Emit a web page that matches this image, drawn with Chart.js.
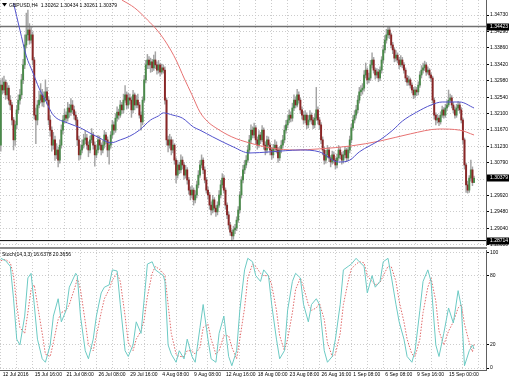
<!DOCTYPE html>
<html><head><meta charset="utf-8">
<script src="https://cdn.jsdelivr.net/npm/chart.js@4.4.0/dist/chart.umd.min.js"></script>
<style>
html,body{margin:0;padding:0;background:#fff;}
#wrap{position:relative;width:510px;height:382px;overflow:hidden;background:#fff}
canvas{position:absolute;left:0}
#sep{position:absolute;left:0;top:247px;width:487px;height:2px;background:#8c8c8c}
</style></head><body>
<div id="wrap">
<canvas id="main" width="510" height="246" style="top:0"></canvas>
<div id="sep"></div>
<canvas id="osc" width="510" height="132" style="top:250px"></canvas>
</div>
<script>
const symbolText = 'GBPUSD,H4';
const lastQuote = ['1.30262','1.30434','1.30261','1.30379'];
const stochTitle = 'Stoch(14,3,3) 16.6378 20.3656';
const timeLabels = ['12 Jul 2016','15 Jul 16:00','21 Jul 08:00','26 Jul 08:00','29 Jul 16:00','4 Aug 08:00','9 Aug 08:00','12 Aug 16:00','18 Aug 00:00','23 Aug 08:00','26 Aug 16:00','1 Sep 08:00','6 Sep 08:00','9 Sep 16:00','15 Sep 00:00'];
const timeTickBars = [0,20,40,60,80,100,120,140,160,180,200,220,240,260,280];
const gridBars = [0,10,20,30,40,50,60,70,80,90,100,110,120,130,140,150,160,170,180,190,200,210,220,230,240,250,260,270,280,290,300];
const priceTicks = [1.34730,1.34290,1.33860,1.33420,1.32980,1.32540,1.32100,1.31670,1.31230,1.30790,1.30350,1.29920,1.29480,1.29040,1.28600];
const markedPrices = [1.34423,1.30379,1.28714];
const levelLines = [1.34423,1.28714];
const stochTicks = [0,20,80,100];

const opens = [1.3126,
1.3286,1.3273,1.3294,1.3260,1.3278,1.3246,1.3233,1.3193,1.3140,1.3180,
1.3220,1.3246,1.3260,1.3300,1.3340,1.3393,1.3420,1.3433,1.3406,1.3420,
1.3353,1.3206,1.3193,1.3233,1.3246,1.3260,1.3241,1.3252,1.3268,1.3246,
1.3193,1.3166,1.3126,1.3140,1.3100,1.3113,1.3086,1.3126,1.3166,1.3193,
1.3206,1.3198,1.3225,1.3214,1.3233,1.3220,1.3206,1.3193,1.3140,1.3100,
1.3113,1.3126,1.3140,1.3145,1.3126,1.3113,1.3140,1.3153,1.3126,1.3100,
1.3113,1.3140,1.3126,1.3113,1.3126,1.3153,1.3140,1.3113,1.3126,1.3153,
1.3180,1.3166,1.3198,1.3214,1.3206,1.3233,1.3220,1.3246,1.3260,1.3233,
1.3252,1.3246,1.3220,1.3260,1.3233,1.3246,1.3233,1.3206,1.3188,1.3246,
1.3300,1.3340,1.3353,1.3340,1.3348,1.3332,1.3353,1.3340,1.3326,1.3340,
1.3321,1.3332,1.3326,1.3246,1.3140,1.3126,1.3140,1.3113,1.3126,1.3086,
1.3046,1.3073,1.3060,1.3086,1.3073,1.3046,1.3060,1.3033,1.3006,1.2993,
1.3006,1.2980,1.2993,1.3020,1.3046,1.3073,1.3086,1.3060,1.3033,1.3006,
1.2993,1.2966,1.2953,1.2980,1.2958,1.2948,1.2966,1.2993,1.3020,1.3038,
1.3006,1.2966,1.2940,1.2913,1.2894,1.2884,1.2900,1.2905,1.2926,1.2953,
1.2993,1.3033,1.3060,1.3073,1.3086,1.3113,1.3140,1.3166,1.3153,1.3172,
1.3140,1.3126,1.3153,1.3140,1.3166,1.3126,1.3113,1.3140,1.3126,1.3113,
1.3100,1.3118,1.3126,1.3113,1.3092,1.3113,1.3126,1.3140,1.3166,1.3180,
1.3193,1.3206,1.3198,1.3225,1.3246,1.3233,1.3260,1.3246,1.3220,1.3206,
1.3193,1.3206,1.3180,1.3193,1.3206,1.3193,1.3180,1.3198,1.3220,1.3193,
1.3180,1.3140,1.3113,1.3086,1.3100,1.3113,1.3092,1.3081,1.3100,1.3086,
1.3073,1.3092,1.3113,1.3100,1.3086,1.3100,1.3113,1.3092,1.3113,1.3140,
1.3172,1.3193,1.3206,1.3220,1.3246,1.3268,1.3273,1.3278,1.3313,1.3326,
1.3300,1.3305,1.3340,1.3353,1.3326,1.3313,1.3321,1.3305,1.3326,1.3353,
1.3380,1.3406,1.3420,1.3433,1.3420,1.3393,1.3380,1.3358,1.3366,1.3353,
1.3340,1.3353,1.3340,1.3326,1.3305,1.3294,1.3300,1.3286,1.3273,1.3260,
1.3273,1.3268,1.3286,1.3313,1.3326,1.3332,1.3340,1.3321,1.3326,1.3313,
1.3305,1.3246,1.3206,1.3193,1.3198,1.3188,1.3206,1.3220,1.3206,1.3225,
1.3233,1.3246,1.3252,1.3233,1.3220,1.3206,1.3225,1.3233,1.3220,1.3193,
1.3140,1.3073,1.3020,1.3006,1.3038,1.3060,1.30262];
const closes = [
1.3286,1.3273,1.3294,1.3260,1.3278,1.3246,1.3233,1.3193,1.3140,1.3180,
1.3220,1.3246,1.3260,1.3300,1.3340,1.3393,1.3420,1.3433,1.3406,1.3420,
1.3353,1.3206,1.3193,1.3233,1.3246,1.3260,1.3241,1.3252,1.3268,1.3246,
1.3193,1.3166,1.3126,1.3140,1.3100,1.3113,1.3086,1.3126,1.3166,1.3193,
1.3206,1.3198,1.3225,1.3214,1.3233,1.3220,1.3206,1.3193,1.3140,1.3100,
1.3113,1.3126,1.3140,1.3145,1.3126,1.3113,1.3140,1.3153,1.3126,1.3100,
1.3113,1.3140,1.3126,1.3113,1.3126,1.3153,1.3140,1.3113,1.3126,1.3153,
1.3180,1.3166,1.3198,1.3214,1.3206,1.3233,1.3220,1.3246,1.3260,1.3233,
1.3252,1.3246,1.3220,1.3260,1.3233,1.3246,1.3233,1.3206,1.3188,1.3246,
1.3300,1.3340,1.3353,1.3340,1.3348,1.3332,1.3353,1.3340,1.3326,1.3340,
1.3321,1.3332,1.3326,1.3246,1.3140,1.3126,1.3140,1.3113,1.3126,1.3086,
1.3046,1.3073,1.3060,1.3086,1.3073,1.3046,1.3060,1.3033,1.3006,1.2993,
1.3006,1.2980,1.2993,1.3020,1.3046,1.3073,1.3086,1.3060,1.3033,1.3006,
1.2993,1.2966,1.2953,1.2980,1.2958,1.2948,1.2966,1.2993,1.3020,1.3038,
1.3006,1.2966,1.2940,1.2913,1.2894,1.2884,1.2900,1.2905,1.2926,1.2953,
1.2993,1.3033,1.3060,1.3073,1.3086,1.3113,1.3140,1.3166,1.3153,1.3172,
1.3140,1.3126,1.3153,1.3140,1.3166,1.3126,1.3113,1.3140,1.3126,1.3113,
1.3100,1.3118,1.3126,1.3113,1.3092,1.3113,1.3126,1.3140,1.3166,1.3180,
1.3193,1.3206,1.3198,1.3225,1.3246,1.3233,1.3260,1.3246,1.3220,1.3206,
1.3193,1.3206,1.3180,1.3193,1.3206,1.3193,1.3180,1.3198,1.3220,1.3193,
1.3180,1.3140,1.3113,1.3086,1.3100,1.3113,1.3092,1.3081,1.3100,1.3086,
1.3073,1.3092,1.3113,1.3100,1.3086,1.3100,1.3113,1.3092,1.3113,1.3140,
1.3172,1.3193,1.3206,1.3220,1.3246,1.3268,1.3273,1.3278,1.3313,1.3326,
1.3300,1.3305,1.3340,1.3353,1.3326,1.3313,1.3321,1.3305,1.3326,1.3353,
1.3380,1.3406,1.3420,1.3433,1.3420,1.3393,1.3380,1.3358,1.3366,1.3353,
1.3340,1.3353,1.3340,1.3326,1.3305,1.3294,1.3300,1.3286,1.3273,1.3260,
1.3273,1.3268,1.3286,1.3313,1.3326,1.3332,1.3340,1.3321,1.3326,1.3313,
1.3305,1.3246,1.3206,1.3193,1.3198,1.3188,1.3206,1.3220,1.3206,1.3225,
1.3233,1.3246,1.3252,1.3233,1.3220,1.3206,1.3225,1.3233,1.3220,1.3193,
1.3140,1.3073,1.3020,1.3006,1.3038,1.3060,1.30262,1.30379];
const highs = [
1.3300,1.3305,1.3310,1.3300,1.3292,1.3285,1.3258,1.3240,1.3200,1.3190,
1.3232,1.3260,1.3275,1.3315,1.3355,1.3420,1.3478,1.3486,1.3450,1.3440,
1.3428,1.3360,1.3225,1.3245,1.3270,1.3290,1.3275,1.3268,1.3300,1.3280,
1.3255,1.3205,1.3175,1.3160,1.3150,1.3130,1.3120,1.3140,1.3180,1.3205,
1.3222,1.3215,1.3240,1.3235,1.3250,1.3245,1.3230,1.3215,1.3200,1.3150,
1.3125,1.3140,1.3155,1.3165,1.3155,1.3135,1.3150,1.3170,1.3160,1.3135,
1.3125,1.3152,1.3150,1.3132,1.3138,1.3165,1.3160,1.3148,1.3135,1.3162,
1.3192,1.3188,1.3210,1.3228,1.3222,1.3245,1.3240,1.3262,1.3285,1.3268,
1.3265,1.3262,1.3255,1.3272,1.3265,1.3258,1.3262,1.3240,1.3215,1.3255,
1.3312,1.3352,1.3368,1.3362,1.3358,1.3355,1.3366,1.3375,1.3348,1.3352,
1.3345,1.3342,1.3340,1.3335,1.3252,1.3150,1.3155,1.3148,1.3140,1.3130,
1.3092,1.3085,1.3080,1.3100,1.3095,1.3080,1.3072,1.3066,1.3040,1.3015,
1.3018,1.3012,1.3005,1.3030,1.3058,1.3085,1.3100,1.3092,1.3068,1.3040,
1.3015,1.3000,1.2975,1.2992,1.2986,1.2965,1.2975,1.3005,1.3032,1.3050,
1.3045,1.3012,1.2972,1.2948,1.2920,1.2900,1.2910,1.2915,1.2935,1.2962,
1.3002,1.3042,1.3072,1.3085,1.3098,1.3125,1.3152,1.3180,1.3175,1.3185,
1.3178,1.3148,1.3165,1.3160,1.3178,1.3172,1.3135,1.3150,1.3148,1.3132,
1.3120,1.3128,1.3140,1.3135,1.3120,1.3122,1.3138,1.3152,1.3178,1.3192,
1.3205,1.3220,1.3215,1.3238,1.3260,1.3255,1.3275,1.3268,1.3252,1.3228,
1.3215,1.3218,1.3212,1.3205,1.3218,1.3212,1.3200,1.3210,1.3280,1.3228,
1.3200,1.3186,1.3148,1.3120,1.3112,1.3125,1.3120,1.3098,1.3110,1.3108,
1.3092,1.3102,1.3125,1.3120,1.3106,1.3110,1.3122,1.3118,1.3122,1.3150,
1.3182,1.3205,1.3218,1.3232,1.3258,1.3280,1.3285,1.3290,1.3325,1.3345,
1.3332,1.3318,1.3352,1.3372,1.3360,1.3332,1.3330,1.3328,1.3335,1.3362,
1.3392,1.3418,1.3435,1.3442,1.3440,1.3425,1.3400,1.3386,1.3378,1.3372,
1.3360,1.3365,1.3360,1.3346,1.3332,1.3312,1.3310,1.3305,1.3292,1.3280,
1.3282,1.3280,1.3295,1.3322,1.3338,1.3345,1.3350,1.3346,1.3335,1.3330,
1.3318,1.3310,1.3252,1.3212,1.3208,1.3205,1.3215,1.3230,1.3226,1.3235,
1.3245,1.3273,1.3262,1.3258,1.3240,1.3228,1.3235,1.3242,1.3240,1.3226,
1.3198,1.3145,1.3078,1.3030,1.3045,1.3086,1.3068,1.30434];
const lows = [
1.3110,1.3262,1.3265,1.3248,1.3250,1.3235,1.3220,1.3180,1.3113,1.3125,
1.3170,1.3210,1.3235,1.3250,1.3290,1.3330,1.3385,1.3405,1.3395,1.3398,
1.3340,1.3195,1.3130,1.3180,1.3225,1.3238,1.3230,1.3228,1.3245,1.3235,
1.3180,1.3150,1.3110,1.3115,1.3085,1.3090,1.3068,1.3078,1.3118,1.3155,
1.3185,1.3185,1.3190,1.3200,1.3205,1.3210,1.3195,1.3180,1.3125,1.3086,
1.3090,1.3105,1.3118,1.3130,1.3115,1.3095,1.3105,1.3132,1.3115,1.3070,
1.3092,1.3105,1.3115,1.3100,1.3105,1.3118,1.3130,1.3095,1.3075,1.3118,
1.3145,1.3155,1.3160,1.3190,1.3195,1.3200,1.3210,1.3212,1.3240,1.3222,
1.3225,1.3235,1.3200,1.3212,1.3220,1.3225,1.3225,1.3198,1.3166,1.3180,
1.3240,1.3292,1.3330,1.3330,1.3320,1.3322,1.3325,1.3330,1.3315,1.3318,
1.3310,1.3315,1.3318,1.3235,1.3126,1.3108,1.3118,1.3100,1.3105,1.3075,
1.3025,1.3038,1.3050,1.3052,1.3062,1.3035,1.3038,1.3022,1.2995,1.2980,
1.2985,1.2966,1.2972,1.2985,1.3012,1.3040,1.3065,1.3050,1.3025,1.2998,
1.2982,1.2955,1.2940,1.2945,1.2948,1.2936,1.2940,1.2960,1.2985,1.3012,
1.2998,1.2955,1.2930,1.2902,1.2885,1.2871,1.2875,1.2890,1.2898,1.2920,
1.2945,1.2985,1.3025,1.3050,1.3065,1.3080,1.3105,1.3132,1.3145,1.3145,
1.3130,1.3115,1.3120,1.3130,1.3135,1.3115,1.3100,1.3105,1.3118,1.3100,
1.3088,1.3092,1.3110,1.3105,1.3080,1.3085,1.3105,1.3118,1.3132,1.3158,
1.3172,1.3185,1.3188,1.3190,1.3218,1.3225,1.3228,1.3238,1.3210,1.3195,
1.3182,1.3185,1.3170,1.3172,1.3188,1.3182,1.3170,1.3172,1.3192,1.3182,
1.3168,1.3130,1.3100,1.3075,1.3078,1.3092,1.3082,1.3068,1.3075,1.3078,
1.3062,1.3065,1.3085,1.3090,1.3075,1.3078,1.3092,1.3082,1.3085,1.3105,
1.3132,1.3165,1.3185,1.3198,1.3212,1.3238,1.3258,1.3262,1.3270,1.3305,
1.3290,1.3292,1.3298,1.3332,1.3318,1.3302,1.3305,1.3295,1.3298,1.3318,
1.3345,1.3372,1.3398,1.3412,1.3410,1.3385,1.3370,1.3348,1.3350,1.3345,
1.3330,1.3335,1.3332,1.3318,1.3295,1.3285,1.3286,1.3278,1.3265,1.3250,
1.3252,1.3258,1.3260,1.3280,1.3305,1.3318,1.3325,1.3312,1.3315,1.3305,
1.3295,1.3238,1.3195,1.3180,1.3185,1.3178,1.3182,1.3200,1.3198,1.3200,
1.3218,1.3228,1.3240,1.3225,1.3212,1.3198,1.3200,1.3218,1.3212,1.3185,
1.3130,1.3062,1.3000,1.2998,1.3000,1.3030,1.3018,1.30261];

const maBlueBars = [8,12,16,20,24,27,33,42,50,56,62,69,75,81,87,94,99,102,108,114,121,125,133,146,156,169,188,200,212,219,225,238,246,252,261,270,277,288,297];
const maBlueValues = [1.3505,1.3433,1.3364,1.3321,1.3278,1.3254,1.3206,1.3185,1.3172,1.3158,1.3145,1.3132,1.3140,1.3150,1.3166,1.3193,1.3204,1.3212,1.3206,1.3198,1.3174,1.3166,1.3148,1.3121,1.3105,1.3108,1.3113,1.3108,1.3081,1.3086,1.3108,1.3140,1.3166,1.3190,1.3214,1.3233,1.3241,1.3241,1.3225];
const maRedBars = [76,84,92,98,104,110,115,120,125,130,135,145,156,170,185,200,220,238,257,275,288,297];
const maRedValues = [1.3513,1.3492,1.3460,1.3433,1.3398,1.3353,1.3305,1.3260,1.3214,1.3188,1.3172,1.3148,1.3132,1.3118,1.3113,1.3116,1.3124,1.3137,1.3156,1.3169,1.3166,1.3153];

const stochBars = [0,3,6,8,10,12,15,17,19,21,23,26,28,31,33,36,38,41,43,47,48,50,53,55,58,60,63,65,68,70,73,75,78,80,83,85,88,90,92,95,97,100,102,103,105,107,110,112,115,117,120,122,125,127,130,132,135,137,140,143,145,148,150,153,155,158,160,163,165,168,170,173,175,178,180,183,185,188,190,193,195,198,200,203,205,208,210,213,215,218,220,223,225,228,230,233,235,238,240,243,245,248,250,253,255,258,260,263,265,268,270,273,275,278,281,284,287,289,291,294,296,297];
const stochMain = [95,93,88,60,25,20,45,78,82,55, 25,8,5,20,45,60,40,50,70,82, 80,45,15,8,25,45,65,70,72,85, 84,55,15,10,20,40,30,60,90,92, 85,82,80,75,20,12,5,15,8,25, 10,5,35,55,25,8,5,30,45,10, 2,15,50,85,95,92,80,75,85,80, 55,25,8,15,50,75,82,78,55,40, 55,60,55,15,5,10,25,55,85,88, 90,95,92,88,65,80,70,75,92,95, 80,55,40,25,10,5,15,50,75,85, 75,20,10,30,52,39,67,53,2,15, 20,16.64];
const stochSignal = [93,94,91,80,55,35,30,48,68,72, 55,30,12,10,22,42,48,50,55,72, 78,68,40,20,15,28,48,60,68,76, 82,75,45,22,15,25,32,42,62,82, 88,85,82,80,55,30,12,10,10,15, 15,12,18,35,38,25,12,15,28,28, 18,8,25,52,78,90,88,82,80,80, 72,50,28,15,25,48,68,78,70,55, 50,52,56,42,22,10,12,30,55,75, 86,90,92,91,80,75,72,74,80,88, 88,75,58,40,25,12,10,25,48,70, 78,58,32,20,32,40,52,55,38,22, 14,20.37];

const COL = {bull:'#4a8a4a', bear:'#8a2626', wick:'#a4a4a4', grid:'#cccccc', blue:'#5252cc', red:'#e77272', stMain:'#6ccac4', stSig:'#e06a6a', frame:'#606060'};
const FONT = {family:'"Liberation Sans", Arial, sans-serif', size:5};
const X_MIN = -0.5, X_MAX = 304.5;

const isUp = i => closes[i] >= opens[i];
const bodyData = closes.map((c, i) => ({x: i, y: [opens[i], c]}));
const wickData = closes.map((c, i) => ({x: i, y: [lows[i], highs[i]]}));
const pts = (xs, ys) => xs.map((x, k) => ({x, y: ys[k]}));

function fixY(width) {
  return function(scale) { scale.width = width; scale.paddingTop = 0; scale.paddingBottom = 0; };
}
function fixX(height) {
  return function(scale) { scale.height = height; scale.paddingLeft = 0; scale.paddingRight = 0; };
}

const titlePlugin = {
  id: 'titlePlugin',
  afterDraw(chart) {
    const ctx = chart.ctx;
    ctx.save();
    ctx.fillStyle = '#000';
    ctx.beginPath(); ctx.moveTo(2, 3); ctx.lineTo(7, 3); ctx.lineTo(4.5, 6.5); ctx.closePath(); ctx.fill();
    ctx.font = FONT.size + 'px ' + FONT.family;
    ctx.textBaseline = 'middle';
    ctx.fillText(symbolText + '  ' + lastQuote.join(' '), 9, 5.5);
    const ys = chart.scales.y; const right = chart.chartArea.right;
    markedPrices.forEach(p => {
      const y = ys.getPixelForValue(p);
      ctx.fillStyle = '#000';
      ctx.fillRect(right + 1, Math.round(y) - 3.5, 22, 7);
      ctx.fillStyle = '#fff';
      ctx.fillText(p.toFixed(5), right + 4, Math.round(y));
    });
    ctx.restore();
  }
};

new Chart(document.getElementById('main'), {
  type: 'bar',
  data: {
    datasets: [
      {type:'line', data: pts(maBlueBars, maBlueValues), borderColor: COL.blue, borderWidth: 1, pointRadius: 0, cubicInterpolationMode: 'monotone', order: 0},
      {type:'line', data: pts(maRedBars, maRedValues), borderColor: COL.red, borderWidth: 1, pointRadius: 0, cubicInterpolationMode: 'monotone', order: 0},
      {type:'line', data: [{x: X_MIN, y: levelLines[0]}, {x: X_MAX, y: levelLines[0]}], borderColor: '#707070', borderWidth: 1.4, pointRadius: 0, order: 1},
      {type:'line', data: [{x: X_MIN, y: levelLines[1]}, {x: X_MAX, y: levelLines[1]}], borderColor: '#000', borderWidth: 1, pointRadius: 0, order: 1},
      {type:'bar', data: bodyData, stack: 'c', barThickness: 1.3, backgroundColor: ctx => isUp(ctx.dataIndex) ? COL.bull : COL.bear, order: 2},
      {type:'bar', data: wickData, stack: 'c', barThickness: 0.8, backgroundColor: COL.wick, order: 3}
    ]
  },
  options: {
    responsive: false, animation: false, devicePixelRatio: 1,
    layout: {padding: 0},
    plugins: {legend: {display: false}, tooltip: {enabled: false}},
    scales: {
      x: {type: 'linear', min: X_MIN, max: X_MAX, offset: false,
          afterBuildTicks: s => { s.ticks = gridBars.map(v => ({value: v})); },
          afterFit: fixX(0),
          ticks: {display: false},
          grid: {offset: false, color: COL.grid, drawTicks: false},
          border: {display: false, dash: [1, 2]}},
      y: {type: 'linear', position: 'right', min: 1.2857, max: 1.3513, stacked: false, beginAtZero: false,
          afterBuildTicks: s => { s.ticks = priceTicks.map(v => ({value: v})); },
          afterFit: fixY(24),
          ticks: {color: '#000', font: FONT, padding: 1, callback: v => Number(v).toFixed(5)},
          grid: {color: COL.grid, drawTicks: true, tickLength: 3, tickColor: '#000', tickBorderDash: []},
          border: {display: true, color: COL.frame, width: 1, dash: [1, 2]}}
    }
  },
  plugins: [titlePlugin]
});

const stochPlugin = {
  id: 'stochPlugin',
  afterDraw(chart) {
    const ctx = chart.ctx;
    ctx.save();
    ctx.fillStyle = '#000';
    ctx.font = FONT.size + 'px ' + FONT.family;
    ctx.textBaseline = 'middle';
    ctx.fillText(stochTitle, 2, 4.5);
    ctx.restore();
  }
};

new Chart(document.getElementById('osc'), {
  type: 'line',
  data: {
    datasets: [
      {data: pts(stochBars, stochMain), borderColor: COL.stMain, borderWidth: 1, pointRadius: 0, tension: 0},
      {data: pts(stochBars, stochSignal), borderColor: COL.stSig, borderWidth: 1, borderDash: [1.5, 1.5], pointRadius: 0, tension: 0}
    ]
  },
  options: {
    responsive: false, animation: false, devicePixelRatio: 1,
    layout: {padding: 0},
    plugins: {legend: {display: false}, tooltip: {enabled: false}},
    scales: {
      x: {type: 'linear', min: X_MIN, max: X_MAX, offset: false,
          afterBuildTicks: s => { s.ticks = gridBars.map(v => ({value: v})); },
          afterFit: fixX(12),
          ticks: {autoSkip: false, maxRotation: 0, minRotation: 0, align: 'start', labelOffset: 2, padding: 2, color: '#000', font: FONT,
                  callback: v => { const k = timeTickBars.indexOf(v); return k >= 0 ? timeLabels[k] : ''; }},
          grid: {offset: false, color: COL.grid, drawTicks: false},
          border: {display: true, color: COL.frame, width: 1, dash: [1, 2]}},
      y: {type: 'linear', position: 'right', min: -1.7, max: 102.2,
          afterBuildTicks: s => { s.ticks = stochTicks.map(v => ({value: v})); },
          afterFit: fixY(24),
          ticks: {color: '#000', font: FONT, padding: 1, callback: v => String(v)},
          grid: {color: COL.grid, drawTicks: true, tickLength: 3, tickColor: '#000', tickBorderDash: []},
          border: {display: true, color: COL.frame, width: 1, dash: [1, 2]}}
    }
  },
  plugins: [stochPlugin]
});
</script>
</body></html>
